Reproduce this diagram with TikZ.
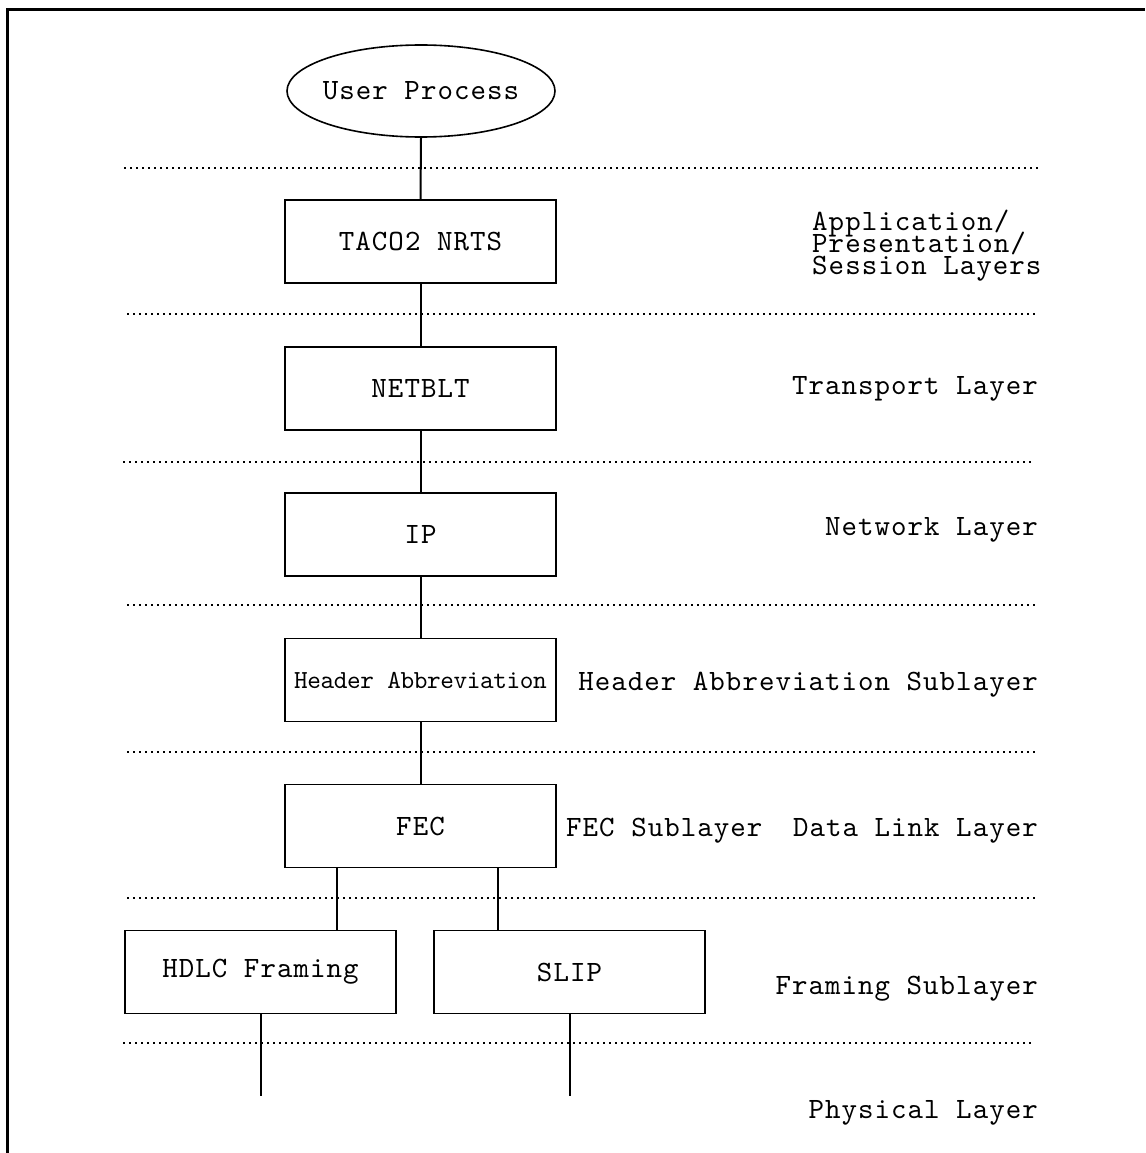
\documentclass[tikz,border=0pt]{standalone}
\usepackage{fontspec}
\usetikzlibrary{shapes.geometric}
\newfontfamily\labfam{lmmono10-regular}[Extension=.otf,LetterSpace=3.5]
\newfontfamily\boxfam{lmmono10-regular}[Extension=.otf,LetterSpace=-1.5]
\newcommand{\labfont}{\labfam\fontsize{29.5}{22}\selectfont\lineskiplimit=-60pt}
\newcommand{\smallfont}{\boxfam\fontsize{26}{22}\selectfont}
\begin{document}
\begin{tikzpicture}[x=1pt,y=-1pt,
  layerbox/.style={draw,line width=1.6pt,minimum width=271pt,minimum height=83pt,inner sep=0pt,font=\labfont},
  layertext/.style={inner sep=0pt,font=\labfont,anchor=east},
  sep/.style={line width=1.8pt,dash pattern=on 2pt off 4pt},
  link/.style={line width=2pt}]
\useasboundingbox (0,0) rectangle (1145,1153);
% page frame (top and left edges only)
\draw[line width=3pt] (7.5,1153) -- (7.5,9.5) -- (1145,9.5);

% layer separators
\draw[sep] (124,168) -- (1038,168);
\draw[sep] (127,314) -- (1036,314);
\draw[sep] (123,462) -- (1032,462);
\draw[sep] (127,605) -- (1036,605);
\draw[sep] (127,752) -- (1036,752);
\draw[sep] (127,898) -- (1036,898);
\draw[sep] (123,1043) -- (1032,1043);

% protocol stack
\node[ellipse,draw,line width=1.6pt,minimum width=268pt,minimum height=92pt,inner xsep=-10pt,inner ysep=0pt,font=\labfont] (up) at (421,91) {User Process};
\node[layerbox] (taco) at (420.5,241.5) {TACO2 NRTS};
\node[layerbox] (netblt) at (420.5,388.5) {NETBLT};
\node[layerbox] (ip) at (420.5,534.5) {IP};
\node[layerbox,font=\smallfont] (ha) at (420.5,680) {Header Abbreviation};
\node[layerbox] (fec) at (420.5,826) {FEC};
\node[layerbox] (hdlc) at (260.5,972) {HDLC Framing};
\node[layerbox] (slip) at (569.5,972) {SLIP};

% connectors
\draw[link] (up.south) -- (taco.north);
\draw[link] (taco.south) -- (netblt.north);
\draw[link] (netblt.south) -- (ip.north);
\draw[link] (ip.south) -- (ha.north);
\draw[link] (ha.south) -- (fec.north);
\coordinate (lx) at (337,0);
\coordinate (rx) at (498,0);
\draw[link] (fec.south -| lx) -- (hdlc.north -| lx);
\draw[link] (fec.south -| rx) -- (slip.north -| rx);
\path (hdlc.south) ++(0,82) coordinate (hend);
\path (slip.south) ++(0,82) coordinate (send);
\draw[link] (hdlc.south) -- (hend);
\draw[link] (slip.south) -- (send);

% layer names
\node[inner sep=0pt,font=\labfont,align=left,anchor=north west] (apl) at (812,210)
  {Application/\\Presentation/\\Session Layers};
\node[layertext] (tl) at (1038,389) {Transport Layer};
\node[layertext] (nl) at (1038,530) {Network Layer};
\node[layertext] (hal) at (1038,685) {Header Abbreviation Sublayer};
\node[layertext] (dll) at (1038,831) {Data Link Layer};
\node[inner sep=0pt,font=\labfont,anchor=west] (fsl) at (566,831) {FEC Sublayer};
\node[layertext] (frl) at (1038,989) {Framing Sublayer};
\node[layertext] (phl) at (1038,1113) {Physical Layer};
\end{tikzpicture}
\end{document}
